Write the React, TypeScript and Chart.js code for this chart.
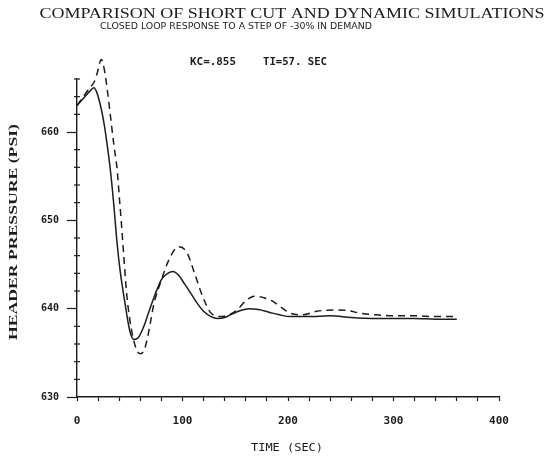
import { useEffect, useRef } from 'react';
import { Chart, registerables } from 'chart.js';

Chart.register(...registerables);

// ---- data ----
const solidTime = [0, 6, 12, 16, 19, 23, 26, 29, 32, 35, 38, 41, 45, 50, 54, 58, 63, 68, 74, 80, 86, 91, 96, 102, 108, 114, 120, 127, 133, 140, 147, 155, 163, 172, 182, 192, 202, 220, 240, 260, 280, 300, 320, 340, 360];
const solidPressure = [663.0, 663.8, 664.6, 665.0, 664.4, 662.6, 660.7, 658.2, 655.3, 651.6, 647.4, 644.2, 641.0, 637.5, 636.5, 636.7, 637.9, 639.6, 641.6, 643.3, 644.0, 644.2, 643.8, 642.8, 641.7, 640.6, 639.7, 639.1, 638.9, 639.0, 639.4, 639.8, 640.0, 639.9, 639.6, 639.3, 639.1, 639.1, 639.2, 639.0, 638.9, 638.9, 638.9, 638.8, 638.8];

const dashedTime = [0, 6, 12, 16, 19, 23, 26, 29, 32, 35, 38, 40, 42, 44, 47, 50, 53, 57, 60, 64, 68, 73, 79, 87, 96, 104, 112, 119, 127, 136, 144, 152, 160, 165, 170, 178, 186, 193, 202, 214, 227, 243, 256, 268, 284, 300, 320, 340, 360];
const dashedPressure = [663.0, 664.0, 665.0, 665.6, 666.6, 668.2, 667.0, 664.5, 661.5, 658.5, 655.8, 652.8, 649.8, 646.5, 641.8, 638.8, 636.8, 635.2, 634.9, 635.4, 637.4, 640.6, 642.9, 645.5, 647.0, 646.4, 643.8, 641.4, 639.5, 639.1, 639.3, 639.9, 640.9, 641.3, 641.4, 641.2, 640.8, 640.2, 639.5, 639.3, 639.7, 639.85, 639.8, 639.5, 639.3, 639.2, 639.2, 639.1, 639.1];

const xTickLabels = ['0', '100', '200', '300', '400'];
const yTickLabels = ['630', '640', '650', '660'];

const titleText = 'COMPARISON OF SHORT CUT AND DYNAMIC SIMULATIONS';
const subtitleText = 'CLOSED LOOP RESPONSE TO A STEP OF -30% IN DEMAND';
const kcText = 'KC=.855';
const tiText = 'TI=57. SEC';
const xTitleText = 'TIME (SEC)';
const yTitleText = 'HEADER PRESSURE (PSI)';

const INK = '#1c1c1c';

function stretchText(ctx: CanvasRenderingContext2D, text: string, cx: number, cy: number, font: string, width: number, rotate = false) {
  ctx.save();
  ctx.font = font;
  ctx.fillStyle = INK;
  const w = ctx.measureText(text).width;
  ctx.translate(cx, cy);
  if (rotate) ctx.rotate(-Math.PI / 2);
  ctx.scale(width / w, 1);
  ctx.textAlign = 'center';
  ctx.textBaseline = 'middle';
  ctx.fillText(text, 0, 0);
  ctx.restore();
}

const decorPlugin = {
  id: 'decor',
  afterDraw(chart: any) {
    const ctx = chart.ctx as CanvasRenderingContext2D;
    const ys = chart.scales.y;
    const area = chart.chartArea;
    // minor y ticks
    ctx.save();
    ctx.strokeStyle = INK;
    ctx.lineWidth = 1.2;
    for (let v = 632; v <= 666; v += 2) {
      if (v % 10 === 0) continue;
      const py = ys.getPixelForValue(v);
      ctx.beginPath();
      ctx.moveTo(area.left - 3, py);
      ctx.lineTo(area.left + 3, py);
      ctx.stroke();
    }
    ctx.restore();

    stretchText(ctx, titleText, 292, 14, '15px "Liberation Serif"', 505);
    stretchText(ctx, subtitleText, 236, 27, '8px "DejaVu Sans"', 272);
    stretchText(ctx, kcText, 213, 62, 'bold 10px "DejaVu Sans Mono"', 46);
    stretchText(ctx, tiText, 295, 62, 'bold 10px "DejaVu Sans Mono"', 64);
    stretchText(ctx, xTitleText, 287, 448, '11px "DejaVu Sans Mono"', 72);
    stretchText(ctx, yTitleText, 14, 232, 'bold 13px "Liberation Serif"', 216, true);
  },
};

export default function App() {
  const ref = useRef<HTMLCanvasElement | null>(null);

  useEffect(() => {
    document.body.style.margin = '0';
    const canvas = ref.current;
    if (!canvas) return;
    const chart = new Chart(canvas, {
      type: 'line',
      data: {
        datasets: [
          {
            label: 'Short cut',
            data: solidTime.map((t, i) => ({ x: t, y: solidPressure[i] })),
            borderColor: INK,
            borderWidth: 1.5,
            pointRadius: 0,
            fill: false,
            cubicInterpolationMode: 'monotone',
            clip: false as any,
          },
          {
            label: 'Dynamic',
            data: dashedTime.map((t, i) => ({ x: t, y: dashedPressure[i] })),
            borderColor: INK,
            borderWidth: 1.5,
            borderDash: [7, 5],
            pointRadius: 0,
            fill: false,
            cubicInterpolationMode: 'monotone',
            clip: false as any,
          },
        ],
      },
      options: {
        animation: false,
        responsive: false,
        layout: { padding: { top: 79, right: 48, left: 0, bottom: 0 } },
        plugins: { legend: { display: false }, tooltip: { enabled: false }, title: { display: false } },
        scales: {
          x: {
            type: 'linear',
            min: 0,
            max: 400,
            afterFit: (s: any) => { s.height = 65; },
            ticks: {
              stepSize: 20,
              autoSkip: false,
              maxRotation: 0,
              padding: 14,
              color: INK,
              font: { family: '"DejaVu Sans Mono"', size: 11, weight: 'bold' },
              callback: (v: any) => (xTickLabels.includes(String(v)) ? String(v) : ''),
            },
            grid: {
              drawOnChartArea: false,
              tickLength: 4,
              tickWidth: 1.2,
              tickColor: INK,
            },
            border: { display: true, color: INK, width: 1.4 },
          },
          y: {
            type: 'linear',
            min: 630,
            max: 666,
            afterFit: (s: any) => { s.width = 77; },
            ticks: {
              stepSize: 2,
              autoSkip: false,
              padding: 8,
              color: INK,
              font: { family: '"DejaVu Sans Mono"', size: 10, weight: 'bold' },
              callback: (v: any) => (yTickLabels.includes(String(v)) ? String(v) : ''),
            },
            grid: {
              drawOnChartArea: false,
              tickLength: 10,
              tickWidth: 1.2,
              tickColor: (c: any) => (c.tick && c.tick.value % 10 === 0 ? INK : 'rgba(0,0,0,0)'),
            },
            border: { display: true, color: INK, width: 1.4 },
          },
        },
      },
      plugins: [decorPlugin],
    });
    return () => chart.destroy();
  }, []);

  return (
    <div style={{ width: 547, height: 462, background: '#fff' }}>
      <canvas ref={ref} width={547} height={462} style={{ display: 'block' }} />
    </div>
  );
}
